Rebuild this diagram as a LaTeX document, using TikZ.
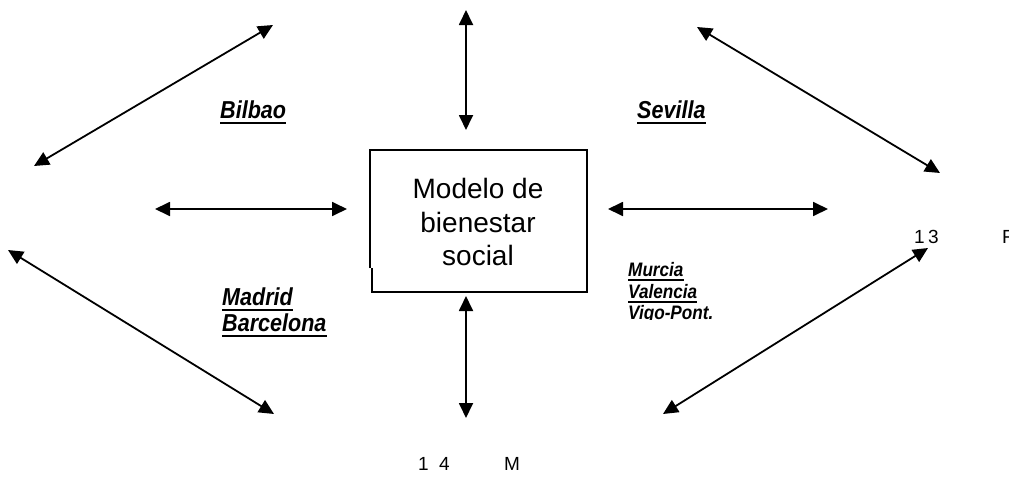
\documentclass[tikz,border=0pt]{standalone}
\usepackage{fontspec}
\setmainfont{Liberation Sans}
\usetikzlibrary{arrows.meta}
\newcommand{\nar}[1]{\scalebox{0.88}[1]{#1}}
\tikzset{
  dbl/.style={line width=1.8pt,{Triangle[length=15pt,width=14pt]}-{Triangle[length=15pt,width=14pt]}},
  city/.style={inner sep=0pt,anchor=base west,font=\fontsize{24.5}{26}\selectfont\bfseries\itshape},
  citys/.style={inner sep=0pt,anchor=base west,font=\fontsize{19.5}{21}\selectfont\bfseries\itshape},
  ul/.style={line width=2.6pt},
  boxline/.style={line width=1.3pt},
  num/.style={inner sep=0pt,anchor=base west,font=\fontsize{19}{20}\selectfont}
}
\begin{document}
\begin{tikzpicture}[x=1pt,y=-1pt]
\useasboundingbox (0,0) rectangle (1009,479);
% box
\coordinate (b1) at (370,150);
\coordinate (b2) at (587,150);
\coordinate (b3) at (587,292);
\coordinate (b4) at (372,292);
\coordinate (b5) at (372,268);
\coordinate (b6) at (370,268);
\draw[boxline] (b6) -- (b1) -- (b2) -- (b3) -- (b4) -- (b5);
\node[align=center,inner sep=0pt,font=\fontsize{28}{33.5}\selectfont] (model) at (478,222) {Modelo de\\bienestar\\social};
% arrow end points
\coordinate (t1) at (466,10);   \coordinate (t2) at (466,130);
\coordinate (d1) at (466,296);  \coordinate (d2) at (466,418);
\coordinate (l1) at (155,209);  \coordinate (l2) at (347,209);
\coordinate (r1) at (608,209);  \coordinate (r2) at (828,209);
\coordinate (tl1) at (34,166);  \coordinate (tl2) at (273,25);
\coordinate (tr1) at (697,27);  \coordinate (tr2) at (940,173);
\coordinate (bl1) at (8,250);   \coordinate (bl2) at (274,414);
\coordinate (br1) at (663,414); \coordinate (br2) at (928,248);
\draw[dbl] (t1) -- (t2);
\draw[dbl] (d1) -- (d2);
\draw[dbl] (l1) -- (l2);
\draw[dbl] (r1) -- (r2);
\draw[dbl] (tl1) -- (tl2);
\draw[dbl] (tr1) -- (tr2);
\draw[dbl] (bl1) -- (bl2);
\draw[dbl] (br1) -- (br2);
% city labels
\node[city] (bil) at (220,118) {\nar{Bilbao}};
\draw[ul] ([yshift=-5pt]bil.base west) -- ([yshift=-5pt]bil.base east);
\node[city] (sev) at (637,118) {\nar{Sevilla}};
\draw[ul] ([yshift=-5pt]sev.base west) -- ([yshift=-5pt]sev.base east);
\node[city] (mad) at (222,305) {\nar{Madrid}};
\draw[ul] ([yshift=-5pt]mad.base west) -- ([yshift=-5pt]mad.base east);
\node[city] (bar) at (222,331) {\nar{Barcelona}};
\draw[ul] ([yshift=-5pt]bar.base west) -- ([yshift=-5pt]bar.base east);
\begin{scope}
\clip (600,250) rectangle (760,319);
\node[citys] (mur) at (628,276) {\nar{Murcia}};
\draw[ul,line width=2.4pt] ([yshift=-4pt]mur.base west) -- ([yshift=-4pt]mur.base east);
\node[citys] (val) at (628,298) {\nar{Valencia}};
\draw[ul,line width=2.4pt] ([yshift=-4pt]val.base west) -- ([yshift=-4pt]val.base east);
\node[citys] (vig) at (628,319) {\nar{Vigo-Pont.}};
\end{scope}
% clipped numbers
\node[num] (n13a) at (914,243) {1};
\node[num] (n13b) at (928,243) {3};
\node[num] (n13c) at (1002,243) {F};
\node[num] (n14a) at (418,470) {1};
\node[num] (n14b) at (439,470) {4};
\node[num] (n14c) at (504,470) {M};
\end{tikzpicture}
\end{document}
